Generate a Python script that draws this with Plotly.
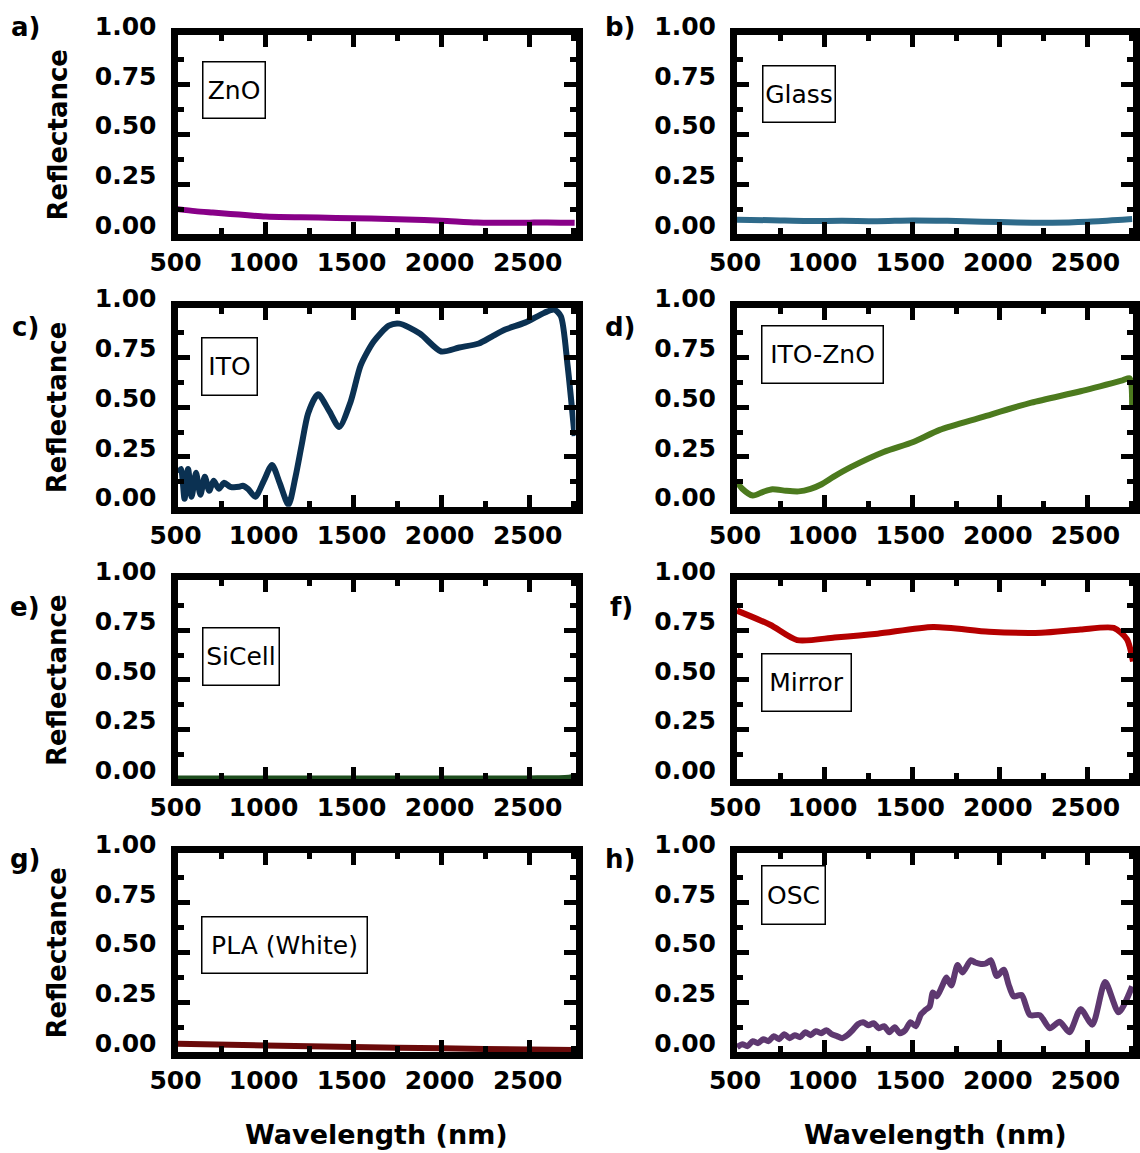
import plotly.graph_objects as go

FIG_W, FIG_H = 1140, 1153

# ---- reflectance spectra: wavelength (nm) and reflectance (0-1) ----
zno_wl = [500, 600, 700, 800, 900, 1000, 1200, 1400, 1600, 1800, 2000, 2200, 2400, 2500, 2600, 2755]
zno_r = [0.125, 0.115, 0.108, 0.101, 0.094, 0.088, 0.084, 0.081, 0.078, 0.073, 0.067, 0.058, 0.056, 0.057, 0.058, 0.056]

glass_wl = [500, 700, 900, 1100, 1300, 1500, 1700, 1900, 2100, 2300, 2500, 2700, 2755]
glass_r = [0.072, 0.069, 0.065, 0.066, 0.064, 0.068, 0.066, 0.062, 0.058, 0.057, 0.062, 0.072, 0.075]

ito_wl = [505, 520, 540, 560, 580, 605, 630, 655, 680, 705, 735, 765, 800, 850, 870, 900, 942,
          990, 1037, 1080, 1130, 1170, 1205, 1242, 1298, 1362, 1418, 1484, 1540, 1614, 1700,
          1760, 1876, 1997, 2100, 2211, 2285, 2361, 2473, 2584, 2640, 2677, 2715, 2755]
ito_r = [0.17, 0.19, 0.04, 0.19, 0.05, 0.17, 0.06, 0.15, 0.08, 0.13, 0.09, 0.12, 0.10, 0.10, 0.105,
         0.09, 0.05, 0.13, 0.21, 0.12, 0.01, 0.15, 0.31, 0.47, 0.565, 0.48, 0.40, 0.53, 0.71, 0.83,
         0.91, 0.92, 0.87, 0.78, 0.80, 0.82, 0.855, 0.89, 0.925, 0.975, 0.99, 0.957, 0.71, 0.355]

itozno_wl = [500, 530, 590, 650, 702, 780, 852, 920, 983, 1050, 1152, 1337, 1506, 1657, 1899,
             2180, 2461, 2700, 2742, 2755]
itozno_r = [0.125, 0.09, 0.056, 0.075, 0.088, 0.08, 0.077, 0.09, 0.113, 0.15, 0.20, 0.275, 0.325,
            0.386, 0.45, 0.523, 0.58, 0.635, 0.645, 0.51]

sicell_wl = [500, 1000, 1500, 2000, 2500, 2700, 2755]
sicell_r = [0.004, 0.004, 0.004, 0.004, 0.005, 0.007, 0.012]

mirror_wl = [500, 689, 843, 1057, 1302, 1620, 1938, 2237, 2461, 2650, 2725, 2760]
mirror_r = [0.848, 0.777, 0.70, 0.713, 0.732, 0.766, 0.742, 0.737, 0.753, 0.761, 0.705, 0.593]

pla_wl = [500, 1000, 1500, 2000, 2500, 2755]
pla_r = [0.042, 0.033, 0.025, 0.019, 0.013, 0.010]

osc_wl = [500, 530, 560, 590, 620, 650, 680, 710, 740, 770, 800, 830, 860, 890, 920, 950, 980,
          1010, 1040, 1070, 1100, 1130, 1160, 1190, 1220, 1250, 1280, 1310, 1340, 1370, 1400,
          1430, 1460, 1490, 1520, 1550, 1573, 1600, 1618, 1640, 1670, 1695, 1723, 1759, 1787,
          1835, 1860, 1892, 1920, 1948, 1983, 2022, 2050, 2079, 2124, 2172, 2228, 2285, 2341,
          2397, 2461, 2528, 2601, 2678, 2755]
osc_r = [0.025, 0.040, 0.030, 0.055, 0.045, 0.065, 0.055, 0.080, 0.065, 0.090, 0.070, 0.085,
         0.075, 0.100, 0.085, 0.105, 0.095, 0.110, 0.090, 0.080, 0.070, 0.085, 0.110, 0.140,
         0.150, 0.135, 0.145, 0.120, 0.130, 0.100, 0.125, 0.095, 0.110, 0.150, 0.130, 0.190,
         0.210, 0.230, 0.300, 0.280, 0.330, 0.375, 0.335, 0.438, 0.400, 0.462, 0.450, 0.443,
         0.445, 0.462, 0.382, 0.414, 0.340, 0.280, 0.287, 0.186, 0.186, 0.120, 0.152, 0.100,
         0.216, 0.138, 0.352, 0.200, 0.330]

x_range = [500, 2760]
y_range = [0, 1]

# panels in reading order: letter, sample label, data, colour
panels = [
    ("a)", "ZnO", zno_wl, zno_r, "#880088"),
    ("b)", "Glass", glass_wl, glass_r, "#2E6A8A"),
    ("c)", "ITO", ito_wl, ito_r, "#0B3152"),
    ("d)", "ITO-ZnO", itozno_wl, itozno_r, "#4C7A1E"),
    ("e)", "SiCell", sicell_wl, sicell_r, "#1E4D1E"),
    ("f)", "Mirror", mirror_wl, mirror_r, "#B50000"),
    ("g)", "PLA (White)", pla_wl, pla_r, "#6A0A0A"),
    ("h)", "OSC", osc_wl, osc_r, "#5E3870"),
]

# label box geometry in pixels: centre x, centre y, width, height
boxes = [
    (234, 90, 64, 58),
    (799, 94, 74, 58),
    (229.5, 366.5, 57, 59),
    (822.5, 354.5, 123, 59),
    (241, 656.5, 78, 59),
    (806.5, 682.5, 91, 59),
    (284.5, 945, 167, 58),
    (793.5, 895, 65, 60),
]
letter_pos = [(25, 27), (620, 27), (25, 327), (620, 327), (25, 607), (621, 607), (25, 859), (620, 859)]

col_px = [(177.5, 575.5), (737.0, 1133.0)]
row_top_px = [35.0, 307.7, 580.4, 853.1]
ROW_H = 199.0


def fx(p):
    return p / FIG_W


def fy(p):
    return 1 - p / FIG_H


tick_font = dict(family="DejaVu Sans", size=25, color="black", weight="bold")
axis_common = dict(
    ticks="inside", ticklen=12, tickwidth=5, tickcolor="black",
    showline=True, linewidth=7, linecolor="black", mirror="ticks",
    showgrid=False, zeroline=False, tickfont=tick_font, fixedrange=True,
    automargin=False,
)

fig = go.Figure()
annotations = []


def note(x, y, text, **kw):
    d = dict(x=fx(x), y=fy(y), xref="paper", yref="paper", text=text, showarrow=False,
             xanchor="center", yanchor="middle")
    d.update(kw)
    annotations.append(d)


for i, (letter, label, wl, refl, color) in enumerate(panels):
    r, c = divmod(i, 2)
    n = i + 1
    xa = "x" if n == 1 else f"x{n}"
    ya = "y" if n == 1 else f"y{n}"
    fig.add_trace(go.Scatter(
        x=wl, y=refl, mode="lines", xaxis=xa, yaxis=ya,
        line=dict(color=color, width=6, shape="spline", smoothing=0.7),
        showlegend=False, hoverinfo="skip",
    ))
    x0, x1 = col_px[c]
    top = row_top_px[r]
    fig.layout["xaxis" if n == 1 else f"xaxis{n}"] = dict(
        axis_common, domain=[fx(x0), fx(x1)], anchor=ya, range=x_range,
        tickmode="linear", tick0=500, dtick=500, ticklabelshift=-2,
        minor=dict(ticks="inside", ticklen=6, tickwidth=5, tickcolor="black", dtick=250, tick0=500),
    )
    fig.layout["yaxis" if n == 1 else f"yaxis{n}"] = dict(
        axis_common, domain=[fy(top + ROW_H), fy(top)], anchor=xa, range=y_range,
        tickmode="linear", tick0=0, dtick=0.25, tickformat=".2f",
        ticklabelstandoff=9, ticklabelshift=-9,
        minor=dict(ticks="inside", ticklen=6, tickwidth=5, tickcolor="black", dtick=0.125, tick0=0),
    )

    cx, cy, bw, bh = boxes[i]
    note(cx, cy, label, width=bw - 3, height=bh - 3, bordercolor="black", borderwidth=1.5,
         borderpad=0, bgcolor="white", align="center", valign="middle",
         font=dict(family="DejaVu Sans", size=25, color="black"))
    lx, ly = letter_pos[i]
    note(lx, ly, letter, font=dict(family="DejaVu Sans", size=26, color="black", weight="bold"))

for r in range(4):
    note(57, row_top_px[r] + ROW_H / 2, "Reflectance", textangle=-90,
         font=dict(family="DejaVu Sans", size=26, color="black", weight="bold"))
for cx in (376, 935):
    note(cx, 1134, "Wavelength (nm)",
         font=dict(family="DejaVu Sans", size=27, color="black", weight="bold"))

fig.update_layout(
    width=FIG_W, height=FIG_H, margin=dict(l=0, r=0, t=0, b=0, autoexpand=False),
    paper_bgcolor="white", plot_bgcolor="white", annotations=annotations,
)

fig.write_html("out.html", config={"displayModeBar": False})
